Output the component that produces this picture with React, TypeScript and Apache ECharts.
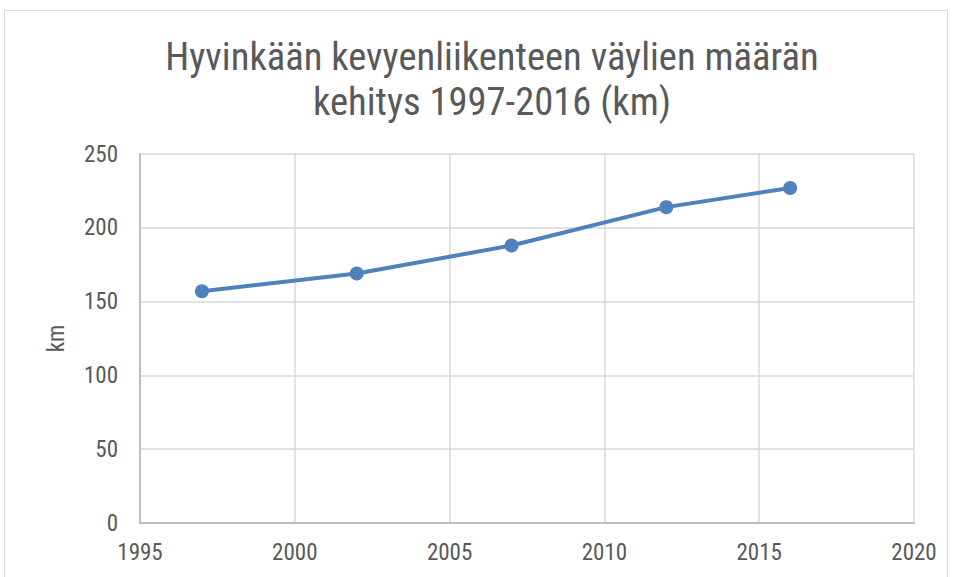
import React, { useEffect, useRef } from "react";
import * as echarts from "echarts";

const years = [1997, 2002, 2007, 2012, 2016];
const km = [157, 169, 188, 214, 227];
const titleLines = ["Hyvinkään kevyenliikenteen väylien määrän", "kehitys 1997-2016 (km)"];
const yName = "km";

const FONT = "'Liberation Sans Narrow', 'Arial Narrow', 'Roboto Condensed', Roboto, sans-serif";

export default function App() {
  const ref = useRef<HTMLDivElement>(null);
  useEffect(() => {
    if (!ref.current) return;
    const chart = echarts.init(ref.current, undefined, { renderer: "svg" });
    chart.setOption({
      animation: false,
      backgroundColor: "#ffffff",
      title: titleLines.map((t, i) => ({
        text: t,
        left: 487,
        top: 32 + i * 45,
        textAlign: "center",
        textStyle: {
          fontFamily: FONT,
          fontSize: 38.6,
          fontWeight: "normal",
          color: "#595959",
        },
      })),
      graphic: [
        {
          type: "rect",
          shape: { x: 4.5, y: 10.5, width: 943, height: 580 },
          style: { fill: "none", stroke: "#d9d9d9", lineWidth: 1 },
          silent: true,
        },
      ],
      grid: { left: 140, right: 39, top: 154, bottom: 54, containLabel: false },
      xAxis: {
        type: "value",
        min: 1995,
        max: 2020,
        interval: 5,
        axisLine: { show: true, lineStyle: { color: "#bfbfbf", width: 2 } },
        axisTick: { show: false },
        splitLine: { show: true, lineStyle: { color: "#d9d9d9", width: 1.5 } },
        axisLabel: {
          fontFamily: FONT,
          fontSize: 23,
          color: "#595959",
          margin: 18,
          formatter: (v: number) => String(v),
        },
      },
      yAxis: {
        type: "value",
        min: 0,
        max: 250,
        interval: 50,
        name: yName,
        nameLocation: "middle",
        nameGap: 72,
        nameTextStyle: { fontFamily: FONT, fontSize: 23, color: "#595959" },
        axisLine: { show: true, lineStyle: { color: "#bfbfbf", width: 2 } },
        axisTick: { show: false },
        splitLine: { show: true, lineStyle: { color: "#d9d9d9", width: 1.5 } },
        axisLabel: {
          fontFamily: FONT,
          fontSize: 23,
          color: "#595959",
          margin: 22,
        },
      },
      series: [
        {
          type: "line",
          data: years.map((y, i) => [y, km[i]]),
          symbol: "circle",
          symbolSize: 14,
          itemStyle: { color: "#4f81bd" },
          lineStyle: { color: "#4f81bd", width: 4 },
        },
      ],
    });
    return () => chart.dispose();
  }, []);
  return (
    <div
      ref={ref}
      style={{ position: "fixed", left: 0, top: 0, width: 953, height: 577 }}
    />
  );
}
